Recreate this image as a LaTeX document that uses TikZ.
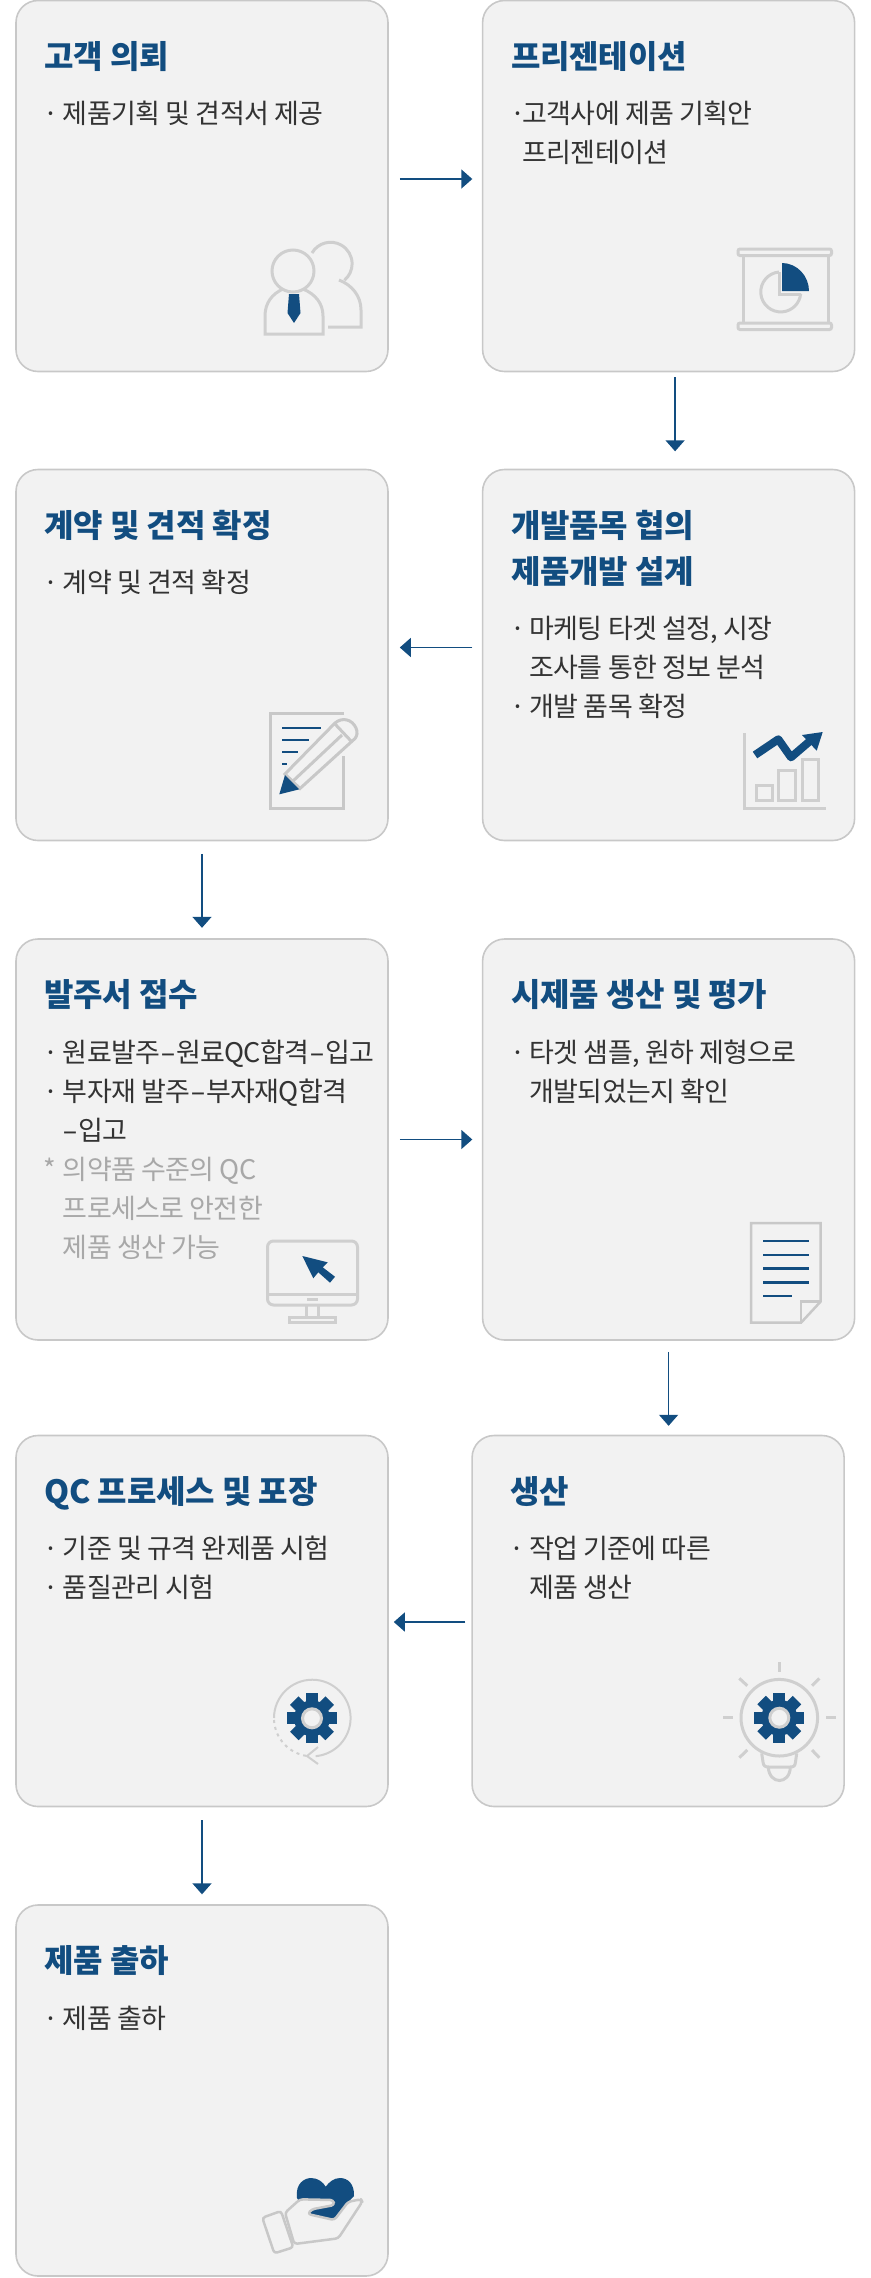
\documentclass[tikz,border=0pt]{standalone}
\usepackage{fontspec}
\setmainfont{Noto Sans CJK KR}
\usetikzlibrary{
    positioning,
    arrows.meta
}
\definecolor{stepBlue}{HTML}{124D80}
\definecolor{stepFill}{HTML}{F2F2F2}
\definecolor{stepEdge}{HTML}{C8C8C8}
\definecolor{stepInk}{HTML}{333333}
\definecolor{stepGrey}{HTML}{A8A8A8}
\definecolor{iconGrey}{HTML}{CFCFCF}
\tikzset{
    >={Triangle[length=11pt,width=19pt]},
    % Boxes
    stepCard/.style={
        draw=stepEdge,
        fill=stepFill,
        line width=1.6pt,
        rounded corners=22pt,
        minimum width=372pt,
        minimum height=371pt,
        inner sep=0pt
    },
    stepTitle/.style={
        color=stepBlue,
        anchor=base west,
        align=left,
        inner sep=0pt,
        font={\fontsize{32}{46}\selectfont\bfseries\addfontfeature{LetterSpace=-0.5}}
    },
    stepText/.style={
        color=stepInk,
        anchor=north west,
        align=left,
        inner sep=0pt,
        execute at begin node=\strut,
        font={\fontsize{27}{39}\selectfont\addfontfeature{LetterSpace=-2.5}}
    },
    stepNote/.style={
        stepText,
        color=stepGrey
    },
    % Connectors
    flow/.style={
        ->,
        draw=stepBlue,
        line width=1.5pt
    },
    % Icons
    iconLine/.style={
        draw=iconGrey,
        line width=3pt
    },
    iconDark/.style={
        draw=stepEdge,
        line width=3pt
    },
    iconBlue/.style={
        fill=stepBlue
    },
    iconStroke/.style={
        draw=stepBlue,
        line width=2.5pt
    }
}
\newcommand{\stepDot}[1][19.5pt]{\makebox[#1][l]{·}}
\newcommand{\stepIndent}[1][19.5pt]{\hspace*{#1}}
\newcommand{\stepDash}{\scalebox{1.7}[1]{-}}
\newcommand{\drawGear}[2]{
    \begin{scope}[shift={(#1,#2)}]
        \fill[iconBlue] (0,0) circle (18);
        \foreach \a in {0,45,...,315}
            \fill[iconBlue,rotate=\a] (-6,-25) rectangle (6,-12);
        \draw[iconLine,fill=stepFill] (0,0) circle (9.5);
    \end{scope}
}

\begin{document}
\begin{tikzpicture}[x=1pt,y=-1pt]
    \useasboundingbox (0,0) rectangle (870,2278);

    % cards
    \node[stepCard] (askCard) at (202,186) {};
    \node[stepCard, right=93pt of askCard] (pitchCard) {};
    \node[stepCard, below=96.4pt of askCard] (contractCard) {};
    \node[stepCard, right=93pt of contractCard] (designCard) {};
    \node[stepCard, below=96.9pt of contractCard, minimum height=401pt] (orderCard) {};
    \node[stepCard, right=93pt of orderCard, minimum height=401pt] (sampleCard) {};
    \node[stepCard, below=93.9pt of orderCard] (qcCard) {};
    \node[stepCard, right=82.5pt of qcCard] (makeCard) {};
    \node[stepCard, below=96.9pt of qcCard] (shipCard) {};

    % titles
    \node[stepTitle] (askTitle) at ([shift={(29,68.5)}]askCard.north west) {고객 의뢰};
    \node[stepTitle] (pitchTitle) at ([shift={(29,68.5)}]pitchCard.north west) {프리젠테이션};
    \node[stepTitle] (contractTitle) at ([shift={(29,68.5)}]contractCard.north west) {계약 및 견적 확정};
    \node[stepTitle] (designTitle) at ([shift={(29,68.5)}]designCard.north west) {개발품목 협의};
    \node[stepTitle] (designTitleB) at ([shift={(0,46)}]designTitle.base west) {제품개발 설계};
    \node[stepTitle] (orderTitle) at ([shift={(29,68.5)}]orderCard.north west) {발주서 접수};
    \node[stepTitle] (sampleTitle) at ([shift={(29,68.5)}]sampleCard.north west) {시제품 생산 및 평가};
    \node[stepTitle] (qcTitle) at ([shift={(29,68.5)}]qcCard.north west) {QC 프로세스 및 포장};
    \node[stepTitle] (makeTitle) at ([shift={(39,68.5)}]makeCard.north west) {생산};
    \node[stepTitle] (shipTitle) at ([shift={(29,68.5)}]shipCard.north west) {제품 출하};

    % body texts
    \node[stepText] (askText) at ([shift={(-1,28)}]askTitle.base west) {\stepDot 제품기획 및 견적서 제공};
    \node[stepText] (pitchText) at ([shift={(-1,33)}]pitchTitle.base west) {\stepDot[12.5pt]고객사에 제품 기획안\\\stepIndent[12.5pt]프리젠테이션};
    \node[stepText] (contractText) at ([shift={(-1,28)}]contractTitle.base west) {\stepDot 계약 및 견적 확정};
    \node[stepText] (designText) at ([shift={(-1,33)}]designTitleB.base west) {\stepDot 마케팅 타겟 설정, 시장\\\stepIndent 조사를 통한 정보 분석\\\stepDot 개발 품목 확정};
    \node[stepText] (orderText) at ([shift={(-1,33)}]orderTitle.base west) {\stepDot 원료발주\stepDash 원료QC합격\stepDash 입고\\\stepDot 부자재 발주\stepDash 부자재Q합격\\\stepIndent \stepDash 입고};
    \node[stepNote] (orderNote) at ([shift={(0,117)}]orderText.north west) {\makebox[19.5pt][l]{*}의약품 수준의 QC\\\stepIndent 프로세스로 안전한\\\stepIndent 제품 생산 가능};
    \node[stepText] (sampleText) at ([shift={(-1,33)}]sampleTitle.base west) {\stepDot 타겟 샘플, 원하 제형으로\\\stepIndent 개발되었는지 확인};
    \node[stepText] (qcText) at ([shift={(-1,33)}]qcTitle.base west) {\stepDot 기준 및 규격 완제품 시험\\\stepDot 품질관리 시험};
    \node[stepText] (makeText) at ([shift={(-1,33)}]makeTitle.base west) {\stepDot 작업 기준에 따른\\\stepIndent 제품 생산};
    \node[stepText] (shipText) at ([shift={(-1,28)}]shipTitle.base west) {\stepDot 제품 출하};

    % connectors
    \draw[flow] ([shift={(11,-7)}]askCard.east) -- ([shift={(-9.5,-7)}]pitchCard.west);
    \draw[flow] ([shift={(6.5,5)}]pitchCard.south) -- ([shift={(6.5,79)}]pitchCard.south);
    \draw[flow] ([shift={(-9.5,-7.5)}]designCard.west) -- ([shift={(11,-7.5)}]contractCard.east);
    \draw[flow] ([shift={(0,12.5)}]contractCard.south) -- ([shift={(0,86.5)}]contractCard.south);
    \draw[flow] ([shift={(11,0)}]orderCard.east) -- ([shift={(-9.5,0)}]sampleCard.west);
    \draw[flow] ([shift={(0,11)}]sampleCard.south) -- ([shift={(0,85)}]sampleCard.south);
    \draw[flow] ([shift={(-6,1)}]makeCard.west) -- ([shift={(5,1)}]qcCard.east);
    \draw[flow] ([shift={(0,13)}]qcCard.south) -- ([shift={(0,87)}]qcCard.south);

    % people icon
    \draw[iconLine] (312,253) arc[start angle=-150,end angle=50,radius=21.5];
    \draw[iconLine] (339,280) .. controls (352,285) and (361,296) .. (361,310) -- (361,327) -- (328,327);
    \draw[iconLine] (293,271) circle (21);
    \draw[iconLine] (283,289) .. controls (272,294) and (265,303) .. (265,316) -- (265,334) -- (323,334) -- (323,316) .. controls (323,303) and (315,294) .. (303,289);
    \fill[iconBlue] (289,294) -- (299,294) -- (300.5,313) -- (294,323) -- (287.5,313) -- cycle;

    % board icon
    \draw[iconLine,rounded corners=2pt] (738,249) rectangle (831.5,255.5);
    \draw[iconLine,rounded corners=2pt] (738,323) rectangle (831.5,329.5);
    \draw[iconLine] (743,255.5) -- (743,323) (828,255.5) -- (828,323);
    \draw[iconLine] (779,272) arc[start angle=-95,end angle=-355,radius=20];
    \draw[iconLine] (779,272) -- (779,294) -- (801,294);
    \fill[iconBlue] (782,263) .. controls (797,263) and (809,276) .. (809,291) -- (782,291) -- cycle;

    % paper and pencil icon
    \draw[iconDark] (344,713) -- (270,713) -- (270,808) -- (343,808) -- (343,756);
    \draw[iconStroke] (282,728) -- (321,728) (282,740) -- (309,740) (282,752) -- (298,752) (282,764) -- (287,764);
    \draw[iconDark,fill=stepFill] (285,774) -- (335,723) .. controls (342,717) and (352,719) .. (356,728) .. controls (358,732) and (357,736) .. (355,738.5) -- (300,788.5) -- cycle;
    \draw[iconDark] (293,781) -- (342,735) (335,724) -- (351,741);
    \fill[iconBlue] (279.3,794.3) -- (285,775) -- (299.3,789.3) -- cycle;

    % chart icon
    \draw[iconLine] (744.5,733) -- (744.5,808.5) -- (826,808.5);
    \draw[iconLine] (756,785) rectangle (772,800.5);
    \draw[iconLine] (778.5,770) rectangle (795,800.5);
    \draw[iconLine] (802,759) rectangle (818,800.5);
    \draw[draw=stepBlue,line width=8pt,line join=round] (755,755) -- (778.3,739.3) -- (791,757.3) -- (810,741);
    \fill[iconBlue] (822.7,732) -- (802,735) -- (816.7,750.7) -- cycle;

    % screen icon
    \draw[iconLine,rounded corners=6pt] (267.5,1241) rectangle (357.5,1305);
    \draw[iconLine] (267.5,1294) -- (357.5,1294);
    \draw[iconLine] (307,1299) -- (317.5,1299);
    \draw[iconLine] (306,1305) -- (306,1317) (318.5,1305) -- (318.5,1317);
    \draw[iconLine] (289,1317) rectangle (335.5,1322.5);
    \fill[iconBlue] (302.3,1256) -- (327.7,1262.3) -- (322.7,1267.3) -- (335,1276.7) -- (330,1282.7) -- (318.3,1272.3) -- (313.3,1278.3) -- cycle;

    % document icon
    \draw[iconDark,line width=2.5pt,fill=stepFill] (751,1223) -- (820.5,1223) -- (820.5,1301.7) -- (801,1322.7) -- (751,1322.7) -- cycle;
    \draw[iconDark,line width=2.5pt] (820.5,1301.7) -- (801,1301.7) -- (801,1322.7);
    \draw[iconStroke] (763,1241) -- (809,1241) (763,1255) -- (809,1255) (763,1268.7) -- (809,1268.7) (763,1282.3) -- (809,1282.3) (763,1296) -- (791.7,1296);

    % gear with arrow icon
    \draw[iconLine,line width=2pt] (274,1718) arc[start angle=180,end angle=445,radius=38.3];
    \draw[iconLine,line width=2pt,dash pattern=on 3pt off 4pt] (274,1720) arc[start angle=177,end angle=97,radius=38.3];
    \draw[iconLine,line width=2pt] (318,1747) -- (307,1756) -- (318,1764);
    \drawGear{312}{1718.3}

    % bulb icon
    \draw[iconLine] (779.3,1662.3) -- (779.3,1671.7);
    \draw[iconLine] (826,1717.7) -- (835.7,1717.7) (723.3,1717.7) -- (733.3,1717.7);
    \draw[iconLine] (739.3,1678.3) -- (747.3,1685.7) (819.3,1678.3) -- (812,1685.7);
    \draw[iconLine] (739.3,1757.7) -- (747.3,1750) (819.3,1757.7) -- (812,1750);
    \draw[iconLine] (761.7,1753.3) -- (763,1762) .. controls (763.5,1766) and (765,1767) .. (769,1767) -- (790,1767) .. controls (794,1767) and (795,1766) .. (795.5,1762) -- (796.7,1753.3);
    \draw[iconLine] (768.3,1767) .. controls (769,1785) and (790,1785) .. (790.3,1767);
    \draw[iconLine,fill=stepFill] (779.3,1717.7) circle (38.3);
    \drawGear{779.3}{1717.7}

    % hand and heart icon
    \fill[iconBlue] (297,2198) .. controls (295,2183) and (305,2178) .. (311,2178) .. controls (318,2178) and (323,2182) .. (325.7,2186.7) .. controls (329,2182) and (334,2178) .. (340,2178) .. controls (348,2178) and (354.5,2184) .. (354,2196) -- (348.3,2201.7) -- (334.3,2220) -- (307.7,2214) -- cycle;
    \draw[iconDark,line width=2.5pt,fill=stepFill,rounded corners=3pt,line join=round] (285,2212.7) -- (300,2199.3) -- (333.3,2200) -- (334.3,2205) -- (311.7,2209.3) -- (307.7,2214) -- (334.3,2220) -- (348.3,2201.7) -- (361,2199.3) -- (362.3,2201.7) -- (338.3,2238.3) -- (294.3,2244) -- cycle;
    \draw[iconDark,line width=2.5pt,fill=stepFill,rounded corners=3pt] (262.3,2217.7) -- (281,2211) -- (293.3,2247.3) -- (274.3,2253.3) -- cycle;

\end{tikzpicture}
\end{document}
